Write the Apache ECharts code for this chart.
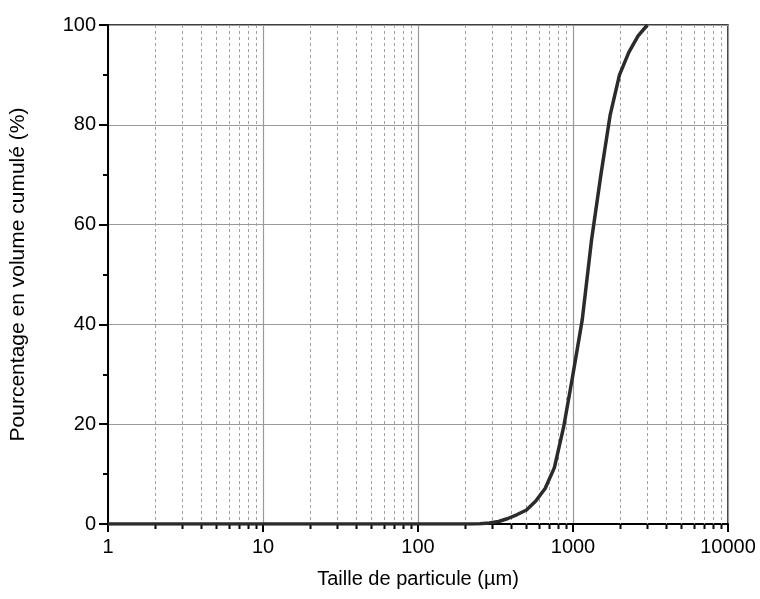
<!DOCTYPE html>
<html>
<head>
<meta charset="utf-8">
<script src="https://cdn.jsdelivr.net/npm/echarts@6/dist/echarts.min.js"></script>
<style>
  html, body { margin: 0; padding: 0; background: #fff; }
  #chart { width: 760px; height: 599px; }
</style>
</head>
<body>
<div id="chart"></div>
<script>
// Particle size classes (µm) and cumulative volume (%)
const sizes = [
  1.000, 1.148, 1.318, 1.514, 1.738, 1.995, 2.291, 2.630, 3.020, 3.467,
  3.981, 4.571, 5.248, 6.026, 6.918, 7.943, 9.120, 10.471, 12.023, 13.804,
  15.849, 18.197, 20.893, 23.988, 27.542, 31.623, 36.308, 41.687, 47.863, 54.954,
  63.096, 72.444, 83.176, 95.499, 109.648, 125.893, 144.544, 165.959, 190.546, 218.776,
  251.189, 288.403, 331.131, 380.189, 436.516, 501.187, 575.440, 660.693, 758.578, 870.964,
  1000.000, 1148.154, 1318.257, 1513.561, 1737.801, 1995.262, 2290.868, 2630.268, 3019.952
];
const cumulative = [
  0, 0, 0, 0, 0, 0, 0, 0, 0, 0,
  0, 0, 0, 0, 0, 0, 0, 0, 0, 0,
  0, 0, 0, 0, 0, 0, 0, 0, 0, 0,
  0, 0, 0, 0, 0, 0, 0, 0, 0, 0,
  0.05, 0.2, 0.5, 1.1, 1.9, 2.8, 4.6, 7.1, 11.3, 19.5,
  30.0, 41.0, 57.0, 70.0, 82.0, 90.0, 94.5, 97.8, 100.0
];
// Intermediate decade positions (dashed grid + short ticks)
const minorSizes = [
  2, 3, 4, 5, 6, 7, 8, 9,
  20, 30, 40, 50, 60, 70, 80, 90,
  200, 300, 400, 500, 600, 700, 800, 900,
  2000, 3000, 4000, 5000, 6000, 7000, 8000, 9000
];

const xTitle = 'Taille de particule (µm)';
const yTitle = 'Pourcentage en volume cumulé (%)';

const FONT = '"Liberation Sans", Arial, sans-serif';
const chart = echarts.init(document.getElementById('chart'), null, { renderer: 'canvas' });

chart.setOption({
  animation: false,
  backgroundColor: '#fff',
  grid: {
    left: 108, right: 32, top: 25, bottom: 75,
    show: true, borderColor: '#000', borderWidth: 1.5, backgroundColor: 'transparent'
  },
  xAxis: {
    type: 'log', logBase: 10, min: 1, max: 10000, interval: 1,
    name: xTitle, nameLocation: 'middle', nameGap: 45,
    nameTextStyle: { color: '#000', fontSize: 20, fontFamily: FONT },
    axisLine: { show: true, onZero: false, lineStyle: { color: '#000', width: 2 } },
    axisTick: { show: true, inside: false, length: 8, lineStyle: { color: '#000', width: 2 } },
    axisLabel: { color: '#000', fontSize: 20, fontFamily: FONT, margin: 13,
      formatter: v => String(Math.round(v)) },
    splitLine: { show: true, lineStyle: { color: '#9a9a9a', width: 1.2 } },
    minorTick: { show: false }
  },
  yAxis: {
    type: 'value', min: 0, max: 100, interval: 20,
    name: yTitle, nameLocation: 'middle', nameGap: 79,
    nameTextStyle: { color: '#000', fontSize: 21, fontFamily: FONT },
    axisLine: { show: true, lineStyle: { color: '#000', width: 2 } },
    axisTick: { show: true, inside: false, length: 9, lineStyle: { color: '#000', width: 2 } },
    minorTick: { show: true, splitNumber: 2, length: 5, lineStyle: { color: '#000', width: 2 } },
    axisLabel: { color: '#000', fontSize: 20, fontFamily: FONT, margin: 12 },
    splitLine: { show: true, lineStyle: { color: '#9a9a9a', width: 1.2 } }
  },
  series: [
    {
      type: 'custom',
      silent: true,
      clip: false,
      z: 1,
      data: minorSizes.map(s => [s, 0]),
      encode: { x: 0, y: 1 },
      renderItem: function (params, api) {
        const bottom = api.coord([api.value(0), 0]);
        const top = api.coord([api.value(0), 100]);
        const x = Math.round(bottom[0]) + 0.5;
        return {
          type: 'group',
          children: [
            { type: 'line', shape: { x1: x, y1: top[1], x2: x, y2: bottom[1] },
              style: { stroke: '#a0a0a0', lineWidth: 1, lineDash: [3, 3] } },
            { type: 'line', shape: { x1: x, y1: bottom[1], x2: x, y2: bottom[1] + 5 },
              style: { stroke: '#000', lineWidth: 2 } }
          ]
        };
      }
    },
    {
      type: 'line',
      z: 3,
      data: sizes.map((s, i) => [s, cumulative[i]]),
      showSymbol: false,
      smooth: false,
      lineStyle: { color: '#2b2b2b', width: 3.5 }
    }
  ]
});
</script>
</body>
</html>
